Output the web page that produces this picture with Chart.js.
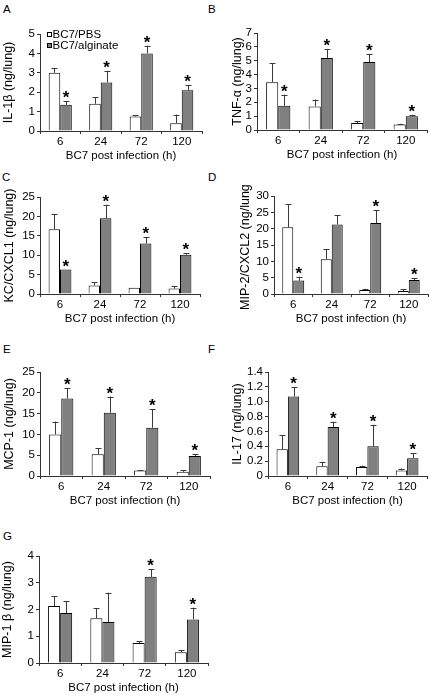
<!DOCTYPE html>
<html><head><meta charset="utf-8">
<script src="https://cdn.jsdelivr.net/npm/chart.js@4.4.1/dist/chart.umd.min.js"></script>
<style>
html,body{margin:0;padding:0;background:#fff;}
body{width:430px;height:699px;position:relative;overflow:hidden;font-family:"Liberation Sans",Arial,sans-serif;}
canvas{position:absolute;}
.lt{position:absolute;font-size:11.5px;line-height:1;color:#000;font-family:"Liberation Sans",Arial,sans-serif;}
</style></head><body>
<div class="lt" style="left:3px;top:3.5px">A</div>
<div class="lt" style="left:208px;top:3.5px">B</div>
<div class="lt" style="left:2px;top:171.5px">C</div>
<div class="lt" style="left:208px;top:171.5px">D</div>
<div class="lt" style="left:3px;top:343.5px">E</div>
<div class="lt" style="left:208px;top:343.5px">F</div>
<div class="lt" style="left:3px;top:530.5px">G</div>
<script>
const hours = ['6', '24', '72', '120'];
const seriesNames = ['BC7/PBS', 'BC7/alginate'];
const xTitle = 'BC7 post infection (h)';

// A: IL-1β
const il1bPBS = [3.0, 1.4, 0.75, 0.4];
const il1bPBSErr = [0.25, 0.35, 0.05, 0.45];
const il1bAlg = [1.35, 2.5, 4.0, 2.1];
const il1bAlgErr = [0.2, 0.6, 0.4, 0.25];
const il1bStar = [1, 1, 1, 1];
// B: TNF-α
const tnfPBS = [3.45, 1.7, 0.5, 0.4];
const tnfPBSErr = [1.35, 0.5, 0.15, 0.05];
const tnfAlg = [1.75, 5.2, 4.9, 1.0];
const tnfAlgErr = [0.8, 0.65, 0.6, 0.1];
const tnfStar = [1, 1, 1, 1];
// C: KC/CXCL1
const kcPBS = [16.7, 2.2, 1.6, 1.4];
const kcPBSErr = [3.9, 0.8, 0.0, 0.6];
const kcAlg = [6.3, 19.5, 13.0, 10.1];
const kcAlgErr = [0.0, 3.5, 1.6, 0.4];
const kcStar = [1, 1, 1, 1];
// D: MIP-2/CXCL2
const mip2PBS = [20.4, 10.6, 1.2, 0.9];
const mip2PBSErr = [7.1, 3.1, 0.4, 0.6];
const mip2Alg = [4.1, 21.3, 21.7, 4.3];
const mip2AlgErr = [1.2, 2.8, 3.9, 0.6];
const mip2Star = [1, 0, 1, 1];
// E: MCP-1
const mcpPBS = [10.0, 5.2, 1.3, 1.0];
const mcpPBSErr = [3.1, 1.5, 0.1, 0.4];
const mcpAlg = [18.6, 15.2, 11.6, 4.8];
const mcpAlgErr = [2.5, 3.9, 4.4, 0.5];
const mcpStar = [1, 1, 1, 1];
// F: IL-17
const il17PBS = [0.36, 0.13, 0.12, 0.075];
const il17PBSErr = [0.19, 0.06, 0.02, 0.025];
const il17Alg = [1.07, 0.66, 0.40, 0.24];
const il17AlgErr = [0.13, 0.07, 0.29, 0.07];
const il17Star = [1, 1, 1, 1];
// G: MIP-1β
const mip1bPBS = [2.13, 1.67, 0.75, 0.40];
const mip1bPBSErr = [0.37, 0.38, 0.07, 0.07];
const mip1bAlg = [1.87, 1.53, 3.22, 1.63];
const mip1bAlgErr = [0.45, 1.1, 0.28, 0.44];
const mip1bStar = [0, 0, 1, 1];

const FONT = '"Liberation Sans", Arial, sans-serif';

const panels = [
  {title:'IL-1β (ng/lung)', pbs:il1bPBS, pbsErr:il1bPBSErr, alg:il1bAlg, algErr:il1bAlgErr, stars:il1bStar, yMax:5, yStep:1, dec:0,
   cLeft:0, left:40, right:202, top:34, bottom:131, titleX:9, legend:true},
  {title:'TNF-α (ng/lung)', pbs:tnfPBS, pbsErr:tnfPBSErr, alg:tnfAlg, algErr:tnfAlgErr, stars:tnfStar, yMax:7, yStep:1, dec:0,
   cLeft:215, left:257, right:427, top:33, bottom:130, titleX:238},
  {title:'KC/CXCL1 (ng/lung)', pbs:kcPBS, pbsErr:kcPBSErr, alg:kcAlg, algErr:kcAlgErr, stars:kcStar, yMax:25, yStep:5, dec:0,
   cLeft:0, left:40, right:200, top:197, bottom:294, titleX:10},
  {title:'MIP-2/CXCL2 (ng/lung)', pbs:mip2PBS, pbsErr:mip2PBSErr, alg:mip2Alg, algErr:mip2AlgErr, stars:mip2Star, yMax:30, yStep:5, dec:0,
   cLeft:215, left:274, right:428, top:196, bottom:294, titleX:246},
  {title:'MCP-1 (ng/lung)', pbs:mcpPBS, pbsErr:mcpPBSErr, alg:mcpAlg, algErr:mcpAlgErr, stars:mcpStar, yMax:25, yStep:5, dec:0,
   cLeft:0, left:40, right:210, top:372, bottom:476, titleX:10},
  {title:'IL-17 (ng/lung)', pbs:il17PBS, pbsErr:il17PBSErr, alg:il17Alg, algErr:il17AlgErr, stars:il17Star, yMax:1.4, yStep:0.2, dec:1,
   cLeft:215, left:268, right:427, top:372, bottom:476, titleX:238},
  {title:'MIP-1 β (ng/lung)', pbs:mip1bPBS, pbsErr:mip1bPBSErr, alg:mip1bAlg, algErr:mip1bAlgErr, stars:mip1bStar, yMax:4, yStep:1, dec:0,
   cLeft:0, left:39, right:208, top:556, bottom:663, titleX:8}
];

const errPlugin = {
  id: 'errbars',
  afterDatasetsDraw(chart) {
    const ctx = chart.ctx;
    const ys = chart.scales.y;
    chart.data.datasets.forEach((ds, i) => {
      const meta = chart.getDatasetMeta(i);
      meta.data.forEach((el, j) => {
        const v = ds.data[j], e = ds.err[j];
        const yTop = ys.getPixelForValue(v + e);
        const x = Math.round(el.x) + 0.5;
        ctx.save();
        ctx.strokeStyle = '#3a3a3a';
        ctx.lineWidth = 1;
        if (e > 0) {
          ctx.beginPath();
          ctx.moveTo(x, el.y);
          ctx.lineTo(x, yTop);
          ctx.moveTo(x - 3, Math.round(yTop) + 0.5);
          ctx.lineTo(x + 3, Math.round(yTop) + 0.5);
          ctx.stroke();
        }
        if (ds.stars && ds.stars[j]) {
          ctx.fillStyle = '#000';
          ctx.font = 'bold 17px ' + FONT;
          ctx.textAlign = 'center';
          ctx.textBaseline = 'alphabetic';
          ctx.fillText('*', el.x, yTop + 2);
        }
        ctx.restore();
      });
    });
  }
};

const legendPlugin = {
  id: 'inlegend',
  afterDraw(chart) {
    if (!chart.options.plugins.inlegend || !chart.options.plugins.inlegend.show) return;
    const ctx = chart.ctx;
    const x0 = chart.chartArea.left + 7.5;
    const rows = [chart.chartArea.top + 0.5, chart.chartArea.top + 11.5];
    chart.data.datasets.forEach((ds, i) => {
      ctx.save();
      ctx.fillStyle = ds.backgroundColor;
      ctx.strokeStyle = '#000';
      ctx.lineWidth = 1;
      ctx.fillRect(x0, rows[i] - 2, 4, 4);
      ctx.strokeRect(x0, rows[i] - 2, 4, 4);
      ctx.fillStyle = '#000';
      ctx.font = '11.5px ' + FONT;
      ctx.textAlign = 'left';
      ctx.textBaseline = 'middle';
      ctx.fillText(ds.label, x0 + 5, rows[i] + 0.5);
      ctx.restore();
    });
  }
};

panels.forEach(p => {
  const padTop = 12, xH = 34, padR = 3;
  const cw = p.right + padR - p.cLeft;
  const ch = p.bottom - p.top + padTop + xH;
  const cv = document.createElement('canvas');
  cv.width = cw; cv.height = ch;
  cv.style.left = p.cLeft + 'px';
  cv.style.top = (p.top - padTop) + 'px';
  cv.style.width = cw + 'px';
  cv.style.height = ch + 'px';
  document.body.appendChild(cv);
  new Chart(cv, {
    type: 'bar',
    data: {
      labels: hours,
      datasets: [
        {label: seriesNames[0], data: p.pbs, err: p.pbsErr, stars: null,
         backgroundColor: '#ffffff', borderColor: '#000', borderWidth: 1, borderSkipped: 'bottom'},
        {label: seriesNames[1], data: p.alg, err: p.algErr, stars: p.stars,
         backgroundColor: '#808080', borderColor: '#000', borderWidth: 1, borderSkipped: 'bottom'}
      ]
    },
    options: {
      responsive: false,
      animation: false,
      devicePixelRatio: 1,
      layout: {padding: {top: padTop, right: padR, left: 0, bottom: 0}},
      datasets: {bar: {categoryPercentage: 0.57, barPercentage: 1.0}},
      plugins: {legend: {display: false}, tooltip: {enabled: false}, inlegend: {show: !!p.legend}},
      scales: {
        x: {
          grid: {display: true, drawOnChartArea: false, drawTicks: true, tickLength: 3, color: '#333', offset: true},
          border: {display: true, color: '#333', width: 1},
          ticks: {color: '#000', font: {family: FONT, size: 11.5}, padding: 1, maxRotation: 0, autoSkip: false},
          title: {display: true, text: xTitle, color: '#000', font: {family: FONT, size: 11.5}, padding: {top: 0, bottom: 2}},
          afterFit: s => { s.height = xH; }
        },
        y: {
          min: 0, max: p.yMax,
          grid: {display: true, drawOnChartArea: false, drawTicks: true, tickLength: 3, color: '#333'},
          border: {display: true, color: '#333', width: 1},
          ticks: {stepSize: p.yStep, autoSkip: false, color: '#000', font: {family: FONT, size: 11.5}, padding: 2,
                  callback: v => (Math.abs(v) < 1e-9 ? '0' : (p.dec ? Number(v).toFixed(p.dec) : String(Math.round(v))))},
          title: {display: true, text: p.title, color: '#000', font: {family: FONT, size: 12.5},
                  padding: {top: p.titleX - p.cLeft - 7.5, bottom: 0}},
          afterFit: s => { s.width = p.left - p.cLeft; }
        }
      }
    },
    plugins: [errPlugin, legendPlugin]
  });
});
</script>
</body></html>
